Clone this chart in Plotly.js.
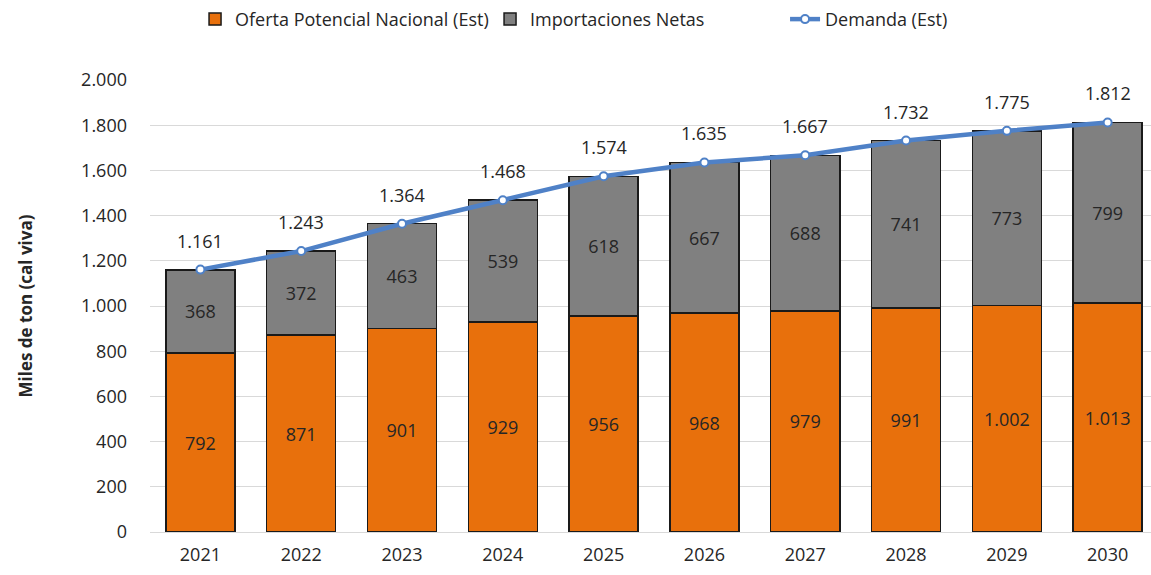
<!DOCTYPE html>
<html>
<head>
<meta charset="utf-8">
<script src="https://cdn.plot.ly/plotly-3.0.1.min.js"></script>
<style>html,body{margin:0;padding:0;background:#fff;}#chart{width:1151px;height:575px;}</style>
</head>
<body>
<div id="chart"></div>
<script>
const years = ['2021','2022','2023','2024','2025','2026','2027','2028','2029','2030'];
const oferta = [792, 871, 901, 929, 956, 968, 979, 991, 1002, 1013];
const importaciones = [368, 372, 463, 539, 618, 667, 688, 741, 773, 799];
const demanda = [1161, 1243, 1364, 1468, 1574, 1635, 1667, 1732, 1775, 1812];

function fmt(v){ return String(v).replace(/\B(?=(\d{3})+(?!\d))/g, '.'); }

const FONT = 'Open Sans, Lato, sans-serif';
const TXT = '#262626';

const traces = [
  {
    type: 'bar', name: 'Oferta Potencial Nacional (Est)', x: years, y: oferta,
    marker: {color: '#E8700C', line: {color: '#1a1a1a', width: 1.5}},
    text: oferta.map(fmt), textposition: 'inside', insidetextanchor: 'middle',
    textfont: {family: FONT, size: 18, color: TXT}, hoverinfo: 'none'
  },
  {
    type: 'bar', name: 'Importaciones Netas', x: years, y: importaciones,
    marker: {color: '#808080', line: {color: '#1a1a1a', width: 1.5}},
    text: importaciones.map(fmt), textposition: 'inside', insidetextanchor: 'middle',
    textfont: {family: FONT, size: 18, color: TXT}, hoverinfo: 'none'
  },
  {
    type: 'scatter', mode: 'lines+markers', name: 'Demanda (Est)', x: years, y: demanda,
    line: {color: '#4F81C7', width: 4.5},
    marker: {symbol: 'circle', size: 8, color: '#ffffff', line: {color: '#4F81C7', width: 2}},
    hoverinfo: 'none'
  }
];

const annotations = years.map((yr, i) => ({
  x: i, y: demanda[i], xref: 'x', yref: 'y', text: fmt(demanda[i]),
  showarrow: false, yshift: 29, font: {family: FONT, size: 18, color: TXT}
}));

const layout = {
  width: 1151, height: 575,
  margin: {l: 150, r: 0, t: 80, b: 43},
  barmode: 'stack', bargap: 0.315,
  separators: ',.',
  paper_bgcolor: '#fff', plot_bgcolor: '#fff',
  font: {family: FONT, color: TXT},
  showlegend: true,
  legend: {
    orientation: 'h', x: 0.045, xanchor: 'left', y: 1.175, yanchor: 'top',
    font: {family: FONT, size: 18, color: TXT}, traceorder: 'normal',
    itemwidth: 30, entrywidth: 250, entrywidthmode: 'pixels'
  },
  xaxis: {
    type: 'category', range: [-0.5, 9.43], showgrid: false, zeroline: false,
    showline: false, ticks: '', tickfont: {family: FONT, size: 18, color: TXT},
    ticklabelstandoff: 10
  },
  yaxis: {
    range: [0, 2000], dtick: 200, tickformat: ',d', showgrid: true, gridcolor: '#D9D9D9',
    gridwidth: 1, zeroline: true, zerolinecolor: '#D9D9D9', showline: false, ticks: '',
    tickfont: {family: FONT, size: 18, color: TXT}, ticklabelstandoff: 22,
    title: {text: '<b>Miles de ton (cal viva)</b>', font: {family: FONT, size: 17, color: TXT}, standoff: 44}
  },
  annotations: annotations
};

Plotly.newPlot('chart', traces, layout, {displayModeBar: false, staticPlot: true});
</script>
</body>
</html>
